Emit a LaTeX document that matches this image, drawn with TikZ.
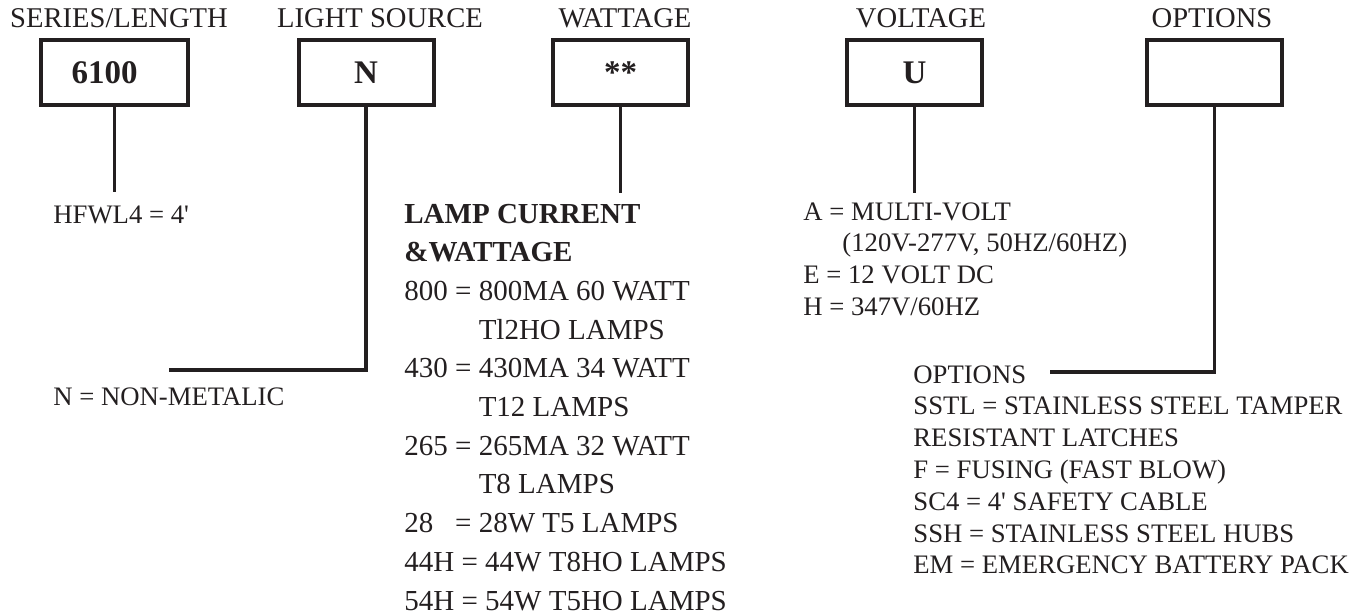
\documentclass[tikz,border=0pt]{standalone}
\usepackage{fontspec}
\setmainfont{Liberation Serif}
\definecolor{ink}{RGB}{35,31,32}
\tikzset{
  code/.style={draw, line width=2pt, minimum width=67.5pt, minimum height=32.5pt,
    inner sep=0pt, text height=11pt, text depth=0pt,
    font=\fontsize{16.5}{16.5}\selectfont\bfseries},
  head/.style={anchor=base, inner sep=0pt, font=\fontsize{14.3}{14.3}\selectfont},
  lead/.style={line width=1.75pt},
  item/.style={anchor=base west, inner sep=0pt, font=\fontsize{13.35}{13.35}\selectfont},
  bigitem/.style={item, font=\fontsize{14.5}{14.5}\selectfont},
}
\begin{document}
\begin{tikzpicture}[x=0.5pt, y=-0.5pt, color=ink]
  \useasboundingbox (0,0) rectangle (1358,615);

  % code boxes
  \node[code, minimum width=73.5pt] (ser) at (114.5,72.5) {6100\kern10pt};
  \node[code] (src) at (366,72.5) {N};
  \node[code] (wat) at (620.5,72.5) {**};
  \node[code] (vol) at (914.5,72.5) {U};
  \node[code] (opt) at (1214.5,72.5) {};

  \node[head] (hser) at (119,28) {SERIES/LENGTH};
  \node[head] (hsrc) at (380,28) {LIGHT SOURCE};
  \node[head] (hwat) at (625,28) {WATTAGE};
  \node[head] (hvol) at (921,28) {VOLTAGE};
  \node[head] (hopt) at (1212,28) {OPTIONS};

  % leads
  \coordinate (eser) at (113,192);
  \coordinate (esrc) at (169,370);
  \coordinate (ewat) at (621,193);
  \coordinate (evol) at (915,193);
  \coordinate (eopt) at (1050,372);
  \draw[lead] (ser.south) -- (ser.south |- eser);
  \draw[lead] (src.south) |- (esrc);
  \draw[lead] (wat.south) -- (wat.south |- ewat);
  \draw[lead] (vol.south) -- (vol.south |- evol);
  \draw[lead] (opt.south) |- (eopt);

  % choices
  \node[item] (hfwl) at (53,223) {HFWL4 = 4\textquotesingle};
  \node[item] (nonmet) at (53,405) {N = NON-METALIC};
  \foreach \t [count=\i from 0] in {{\bfseries LAMP CURRENT}, {\bfseries \&WATTAGE},
      800 = 800MA 60 WATT, \phantom{800 =\ }Tl2HO LAMPS,
      430 = 430MA 34 WATT, \phantom{430 =\ }T12 LAMPS,
      265 = 265MA 32 WATT, \phantom{265 =\ }T8 LAMPS,
      28\phantom{5} = 28W T5 LAMPS, 44H = 44W T8HO LAMPS, 54H = 54W T5HO LAMPS}
    \node[bigitem] (w\i) at (404,223+38.7*\i) {\t};
  \foreach \t [count=\i from 0] in {A = MULTI-VOLT, {\hspace{19.5pt}(120V-277V, 50HZ/60HZ)},
      E = 12 VOLT DC, H = 347V/60HZ}
    \node[item] (v\i) at (803,220+31.7*\i) {\t};
  \foreach \t [count=\i from 0] in {OPTIONS, SSTL = STAINLESS STEEL TAMPER, RESISTANT LATCHES,
      F = FUSING (FAST BLOW), SC4 = 4\textquotesingle{} SAFETY CABLE,
      SSH = STAINLESS STEEL HUBS, EM = EMERGENCY BATTERY PACK}
    \node[item] (o\i) at (913,383+31.8*\i) {\t};
\end{tikzpicture}
\end{document}
